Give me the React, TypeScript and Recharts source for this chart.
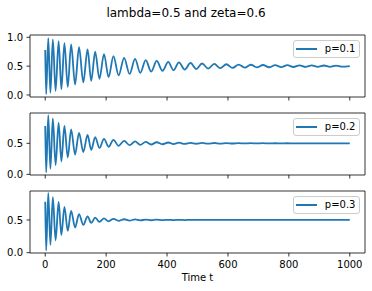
import { LineChart, Line, XAxis, YAxis, ReferenceArea, Legend } from 'recharts';

// turning points of each run (time, value)
const timeSteps = [0, 3, 10, 17, 25, 34, 44, 53, 63, 74, 85, 98, 111, 125, 139, 151, 164, 178, 193, 208, 224, 241, 259, 277, 295, 312, 330, 348, 366, 385, 404, 421, 439, 458, 477, 496, 515, 535, 555, 575, 595, 615, 635, 655, 675, 695, 715, 735, 755, 775, 795, 815, 835, 855, 875, 895, 915, 935, 955, 975, 1000];

const p01Values = [0.78, 0.015, 0.985, 0.04, 0.965, 0.07, 0.935, 0.1, 0.9, 0.14, 0.875, 0.18, 0.83, 0.22, 0.79, 0.245, 0.75, 0.28, 0.71, 0.31, 0.675, 0.34, 0.645, 0.365, 0.625, 0.385, 0.605, 0.405, 0.59, 0.42, 0.575, 0.43, 0.565, 0.44, 0.555, 0.45, 0.546, 0.458, 0.539, 0.464, 0.533, 0.47, 0.528, 0.474, 0.524, 0.478, 0.52, 0.481, 0.518, 0.483, 0.516, 0.485, 0.514, 0.487, 0.512, 0.488, 0.511, 0.489, 0.51, 0.49, 0.5];

const p02Values = [0.78, 0.03, 0.955, 0.09, 0.9, 0.15, 0.83, 0.21, 0.78, 0.27, 0.725, 0.32, 0.67, 0.36, 0.635, 0.395, 0.6, 0.425, 0.572, 0.445, 0.555, 0.46, 0.54, 0.47, 0.53, 0.476, 0.522, 0.481, 0.517, 0.485, 0.513, 0.488, 0.51, 0.491, 0.508, 0.493, 0.506, 0.495, 0.505, 0.496, 0.504, 0.497, 0.503, 0.498, 0.502, 0.498, 0.502, 0.499, 0.501, 0.499, 0.501, 0.5, 0.5, 0.5, 0.5, 0.5, 0.5, 0.5, 0.5, 0.5, 0.5];

const p03Values = [0.78, 0.035, 0.915, 0.12, 0.85, 0.19, 0.775, 0.27, 0.7, 0.335, 0.64, 0.385, 0.59, 0.425, 0.555, 0.455, 0.535, 0.47, 0.524, 0.48, 0.517, 0.487, 0.511, 0.491, 0.508, 0.494, 0.505, 0.496, 0.504, 0.497, 0.503, 0.498, 0.502, 0.499, 0.501, 0.5, 0.5, 0.5, 0.5, 0.5, 0.5, 0.5, 0.5, 0.5, 0.5, 0.5, 0.5, 0.5, 0.5, 0.5, 0.5, 0.5, 0.5, 0.5, 0.5, 0.5, 0.5, 0.5, 0.5, 0.5, 0.5];

const seriesLabels = ['p=0.1', 'p=0.2', 'p=0.3'];
const xTicks = [0, 200, 400, 600, 800, 1000];
const title = 'lambda=0.5 and zeta=0.6';
const xLabel = 'Time t';

const FONT = '"DejaVu Sans", sans-serif';
const BLUE = '#1f77b4';
const X_DOMAIN: [number, number] = [-50, 1050];

function LegendBox({ payload }: any) {
  const item = payload?.[0];
  if (!item) return null;
  return (
    <div style={{ position: 'relative', width: 67, height: 18, boxSizing: 'border-box', border: '1px solid #cccccc', borderRadius: 3, background: 'rgba(255,255,255,0.8)', fontFamily: FONT, fontSize: 10 }}>
      <div style={{ position: 'absolute', left: 2.4, top: 6.8, width: 21, height: 1.8, background: item.color }} />
      <span style={{ position: 'absolute', left: 30.8, top: 2, lineHeight: '12px', color: '#000', whiteSpace: 'nowrap' }}>{item.value}</span>
    </div>
  );
}

interface PanelProps {
  values: number[];
  label: string;
  yDomain: [number, number];
  yTicks: number[];
  top: number;
  showXLabels?: boolean;
}

function Panel({ values, label, yDomain, yTicks, top, showXLabels }: PanelProps) {
  const data = timeSteps.map((t, i) => ({ t, y: values[i] }));
  const tickStyle = { fontSize: 10, fill: '#000', fontFamily: FONT };
  return (
    <div style={{ position: 'absolute', left: 0, top: top - 10 }}>
      <LineChart width={372} height={102} data={data} margin={{ top: 10, right: 7, bottom: 0, left: 0 }}>
        <ReferenceArea x1={X_DOMAIN[0]} x2={X_DOMAIN[1]} y1={yDomain[0]} y2={yDomain[1]}
          fill="none" stroke="#000" strokeWidth={0.8} ifOverflow="visible" />
        <XAxis dataKey="t" type="number" domain={X_DOMAIN} ticks={xTicks} allowDataOverflow interval={0}
          height={30} axisLine={false} tickSize={3.5} tickMargin={4}
          tickLine={{ stroke: '#000', strokeWidth: 0.8 }} tick={tickStyle}
          tickFormatter={(v: number) => (showXLabels ? String(v) : '')} />
        <YAxis type="number" domain={yDomain} ticks={yTicks} allowDataOverflow interval={0}
          width={30} axisLine={false} tickSize={3.5} tickMargin={3.5}
          tickLine={{ stroke: '#000', strokeWidth: 0.8 }} tick={tickStyle}
          tickFormatter={(v: number) => v.toFixed(1)} />
        <Line dataKey="y" name={label} type="monotone" stroke={BLUE} strokeWidth={1.8}
          dot={false} isAnimationActive={false} />
        <Legend content={LegendBox} layout="horizontal" verticalAlign="middle" align="center"
          wrapperStyle={{ left: 293, top: 15, width: 67, height: 18 }} />
      </LineChart>
    </div>
  );
}

export default function App() {
  return (
    <div style={{ position: 'absolute', left: 0, top: 0, width: 372, height: 291, background: '#fff', fontFamily: FONT, color: '#000' }}>
      <div style={{ position: 'absolute', left: 0, top: 6, width: 372, textAlign: 'center', fontSize: 12, lineHeight: '14px' }}>{title}</div>
      <Panel values={p01Values} label={seriesLabels[0]} yDomain={[-0.035, 1.04]} yTicks={[0, 0.5, 1]} top={35} />
      <Panel values={p02Values} label={seriesLabels[1]} yDomain={[-0.011, 0.989]} yTicks={[0, 0.5]} top={113} />
      <Panel values={p03Values} label={seriesLabels[2]} yDomain={[-0.005, 0.943]} yTicks={[0, 0.5]} top={191} showXLabels />
      <div style={{ position: 'absolute', left: 30, top: 271.5, width: 335, textAlign: 'center', fontSize: 10, lineHeight: '12px' }}>{xLabel}</div>
    </div>
  );
}
